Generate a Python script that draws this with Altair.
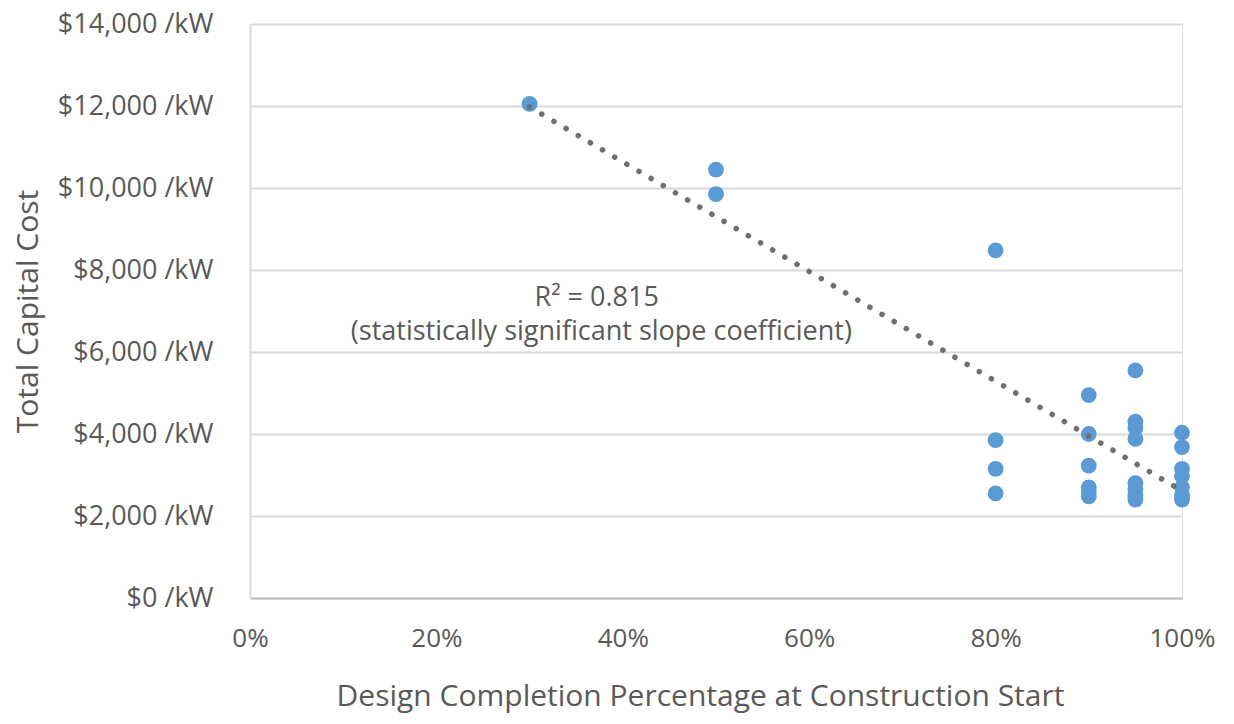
import altair as alt
import pandas as pd

# Design completion (fraction) and total capital cost ($/kW)
completion = [0.30,
              0.50, 0.50,
              0.80, 0.80, 0.80, 0.80,
              0.90, 0.90, 0.90, 0.90, 0.90, 0.90,
              0.95, 0.95, 0.95, 0.95, 0.95, 0.95, 0.95, 0.95,
              1.00, 1.00, 1.00, 1.00, 1.00, 1.00, 1.00]
cost = [12050,
        10450, 9850,
        8480, 3850, 3150, 2550,
        4950, 4000, 3230, 2700, 2600, 2480,
        5550, 4300, 4150, 3880, 2800, 2650, 2500, 2400,
        4030, 3680, 3150, 2970, 2700, 2500, 2400]

annot_text = ["R² = 0.815", "(statistically significant slope coefficient)"]
annot_x = [0.372, 0.377]
annot_y = [7314, 6488]

y_ticks = [0, 2000, 4000, 6000, 8000, 10000, 12000, 14000]
x_ticks = [0, 0.2, 0.4, 0.6, 0.8, 1.0]

df = pd.DataFrame({"completion": completion, "cost": cost})
ann = pd.DataFrame({"t": annot_text, "x": annot_x, "y": annot_y})

FONT = "Open Sans"
GREY = "#595959"

xs = alt.Scale(domain=[0, 1], nice=False)
ys = alt.Scale(domain=[0, 14000], nice=False)

x_axis = alt.Axis(values=x_ticks, format=".0%", title="Design Completion Percentage at Construction Start",
                  grid=False, ticks=False, domain=True, domainColor="#BFBFBF", domainWidth=2,
                  labelFlush=False,
                  labelFont=FONT, labelFontSize=26, labelColor=GREY, labelPadding=27,
                  titleFont=FONT, titleFontSize=30, titleColor=GREY, titleFontWeight="normal",
                  titlePadding=30, titleX=450)
y_axis = alt.Axis(values=y_ticks, title="Total Capital Cost",
                  labelExpr='"$" + format(datum.value, ",") + " /kW"',
                  grid=True, gridColor="#D9D9D9", gridWidth=2,
                  ticks=False, domain=True, domainColor="#D9D9D9", domainWidth=2,
                  labelFlush=False,
                  labelFont=FONT, labelFontSize=27, labelColor=GREY, labelPadding=37,
                  titleFont=FONT, titleFontSize=30, titleColor=GREY, titleFontWeight="normal",
                  titlePadding=14)

points = alt.Chart(df).mark_circle(size=250, color="#5B9BD5", opacity=1).encode(
    x=alt.X("completion:Q", scale=xs, axis=x_axis),
    y=alt.Y("cost:Q", scale=ys, axis=y_axis),
)

trend = alt.Chart(df).transform_regression("completion", "cost").mark_line(
    color="#6F6F6F", strokeWidth=5.5, strokeDash=[0.1, 14], strokeCap="round"
).encode(
    x=alt.X("completion:Q", scale=xs),
    y=alt.Y("cost:Q", scale=ys),
)

text = alt.Chart(ann).mark_text(font=FONT, fontSize=27, color=GREY, align="center", baseline="middle").encode(
    x=alt.X("x:Q", scale=xs),
    y=alt.Y("y:Q", scale=ys),
    text="t:N",
)

chart = alt.layer(points, trend, text).properties(
    width=932, height=574,
    autosize=alt.AutoSizeParams(type="none"),
    padding={"left": 242, "top": 16, "right": 44, "bottom": 118},
).configure_view(stroke=None).configure(background="white")

chart.save("out.html", embed_options={"renderer": "svg", "actions": False})
